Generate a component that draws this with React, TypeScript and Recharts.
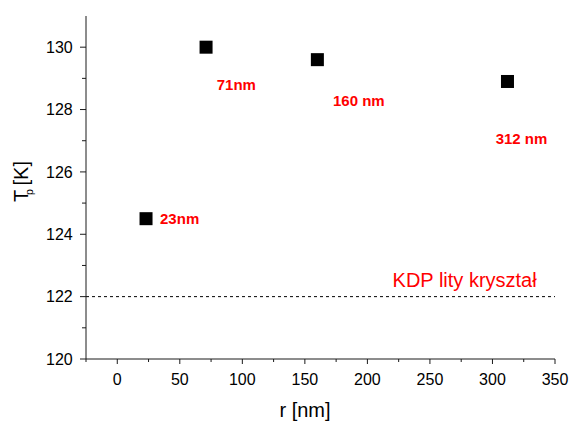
import React from "react";
import {
  ScatterChart,
  Scatter,
  XAxis,
  YAxis,
  ReferenceLine,
  Label,
} from "recharts";

// measured points: particle size r [nm] vs transition temperature Tp [K]
const rValues = [23, 71, 160, 312];
const tpValues = [124.5, 130.0, 129.6, 128.9];
const sizeLabels = ["23nm", "71nm", "160 nm", "312 nm"];

const bulkTp = 122;
const bulkLabel = "KDP lity kryształ";

const xMajorTicks = [0, 50, 100, 150, 200, 250, 300, 350];
const xMinorTicks = [-25, 25, 75, 125, 175, 225, 275, 325];
const xTopTicks = [-25, 0, 25, 50, 75, 100, 125, 150, 175, 200, 225, 250, 275, 300, 325, 350];
const yMajorTicks = [120, 122, 124, 126, 128, 130];
const yMinorTicks = [121, 123, 125, 127, 129];
const yRightTicks = [120, 121, 122, 123, 124, 125, 126, 127, 128, 129, 130, 131];

// label placement relative to each marker (px)
const LABEL_OFFSETS = [
  [14, 5],
  [10.7, 43],
  [15.6, 46.7],
  [-11.8, 63],
];

const FONT = "'Liberation Sans', Arial, sans-serif";
const AXIS = "#1a1a1a";
const RED = "#ff0000";

const data = rValues.map((r, i) => ({ r, tp: tpValues[i], label: sizeLabels[i], idx: i }));

const XTick = (props: any) => {
  const { x, y, payload } = props;
  const major = xMajorTicks.includes(payload.value);
  return (
    <g>
      <line x1={x} x2={x} y1={y} y2={y + (major ? 5 : 3)} stroke={AXIS} />
      {major && (
        <text x={x} y={y + 26} textAnchor="middle" fontSize={16} fontFamily={FONT} fill="#000">
          {payload.value}
        </text>
      )}
    </g>
  );
};

const YTick = (props: any) => {
  const { x, y, payload } = props;
  const major = yMajorTicks.includes(payload.value);
  return (
    <g>
      <line x1={x} x2={x - (major ? 6 : 4)} y1={y} y2={y} stroke={AXIS} />
      {major && (
        <text x={x - 13.3} y={y + 5.7} textAnchor="end" fontSize={16} fontFamily={FONT} fill="#000">
          {payload.value}
        </text>
      )}
    </g>
  );
};

const Marker = (props: any) => {
  const { cx, cy, payload } = props;
  const [dx, dy] = LABEL_OFFSETS[payload.idx];
  return (
    <g>
      <rect x={cx - 6.5} y={cy - 6.5} width={13} height={13} fill="#000" />
      <text x={cx + dx} y={cy + dy} fontSize={15} fontWeight="bold" fontFamily={FONT} fill={RED}>
        {payload.label}
      </text>
    </g>
  );
};

const yTitle = () => (
  <g transform="translate(27.5, 202) rotate(-90)" fontFamily={FONT} fill="#000">
    <text x={0} y={0} fontSize={20}>T</text>
    <text x={7} y={5.4} fontSize={10.5}>p</text>
    <text x={16.5} y={0} fontSize={20}>[K]</text>
  </g>
);

const xTitle = () => (
  <text x={305} y={416.5} textAnchor="middle" fontSize={20} fontFamily={FONT} fill="#000">
    r [nm]
  </text>
);

const bulkText = (props: any) => {
  const vb = props.viewBox || {};
  return (
    <text
      x={vb.x + vb.width - 18.3}
      y={vb.y - 10}
      textAnchor="end"
      fontSize={20}
      fontFamily={FONT}
      fill={RED}
    >
      {bulkLabel}
    </text>
  );
};

export default function App() {
  return (
    <div style={{ position: "absolute", left: 0, top: 0, background: "#fff" }}>
      <ScatterChart width={571} height={422} margin={{ top: 16, right: 16, left: 0, bottom: 0 }}>
        <XAxis
          type="number"
          dataKey="r"
          domain={[-25, 350]}
          ticks={[...xMinorTicks, ...xMajorTicks].sort((a, b) => a - b)}
          interval={0}
          tickSize={0}
          tickMargin={0}
          tickLine={false}
          tick={<XTick />}
          axisLine={{ stroke: AXIS }}
          height={63}
        >
          <Label content={xTitle} />
        </XAxis>
        <XAxis
          xAxisId="top"
          orientation="top"
          type="number"
          domain={[-25, 350]}
          ticks={xTopTicks}
          interval={0}
          tickSize={3}
          tick={false}
          tickLine={{ stroke: AXIS }}
          axisLine={{ stroke: AXIS }}
          height={0}
        />
        <YAxis
          type="number"
          dataKey="tp"
          domain={[120, 131]}
          ticks={[...yMinorTicks, ...yMajorTicks].sort((a, b) => a - b)}
          interval={0}
          tickSize={0}
          tickMargin={0}
          tickLine={false}
          tick={<YTick />}
          axisLine={{ stroke: AXIS }}
          width={86}
        >
          <Label content={yTitle} />
        </YAxis>
        <YAxis
          yAxisId="right"
          orientation="right"
          type="number"
          domain={[120, 131]}
          ticks={yRightTicks}
          interval={0}
          tickSize={3}
          tick={false}
          tickLine={{ stroke: AXIS }}
          axisLine={{ stroke: AXIS }}
          width={0}
        />
        <ReferenceLine y={bulkTp} stroke="#000" strokeDasharray="3 3" strokeWidth={1}>
          <Label content={bulkText} />
        </ReferenceLine>
        <Scatter data={data} shape={<Marker />} isAnimationActive={false} />
      </ScatterChart>
    </div>
  );
}
